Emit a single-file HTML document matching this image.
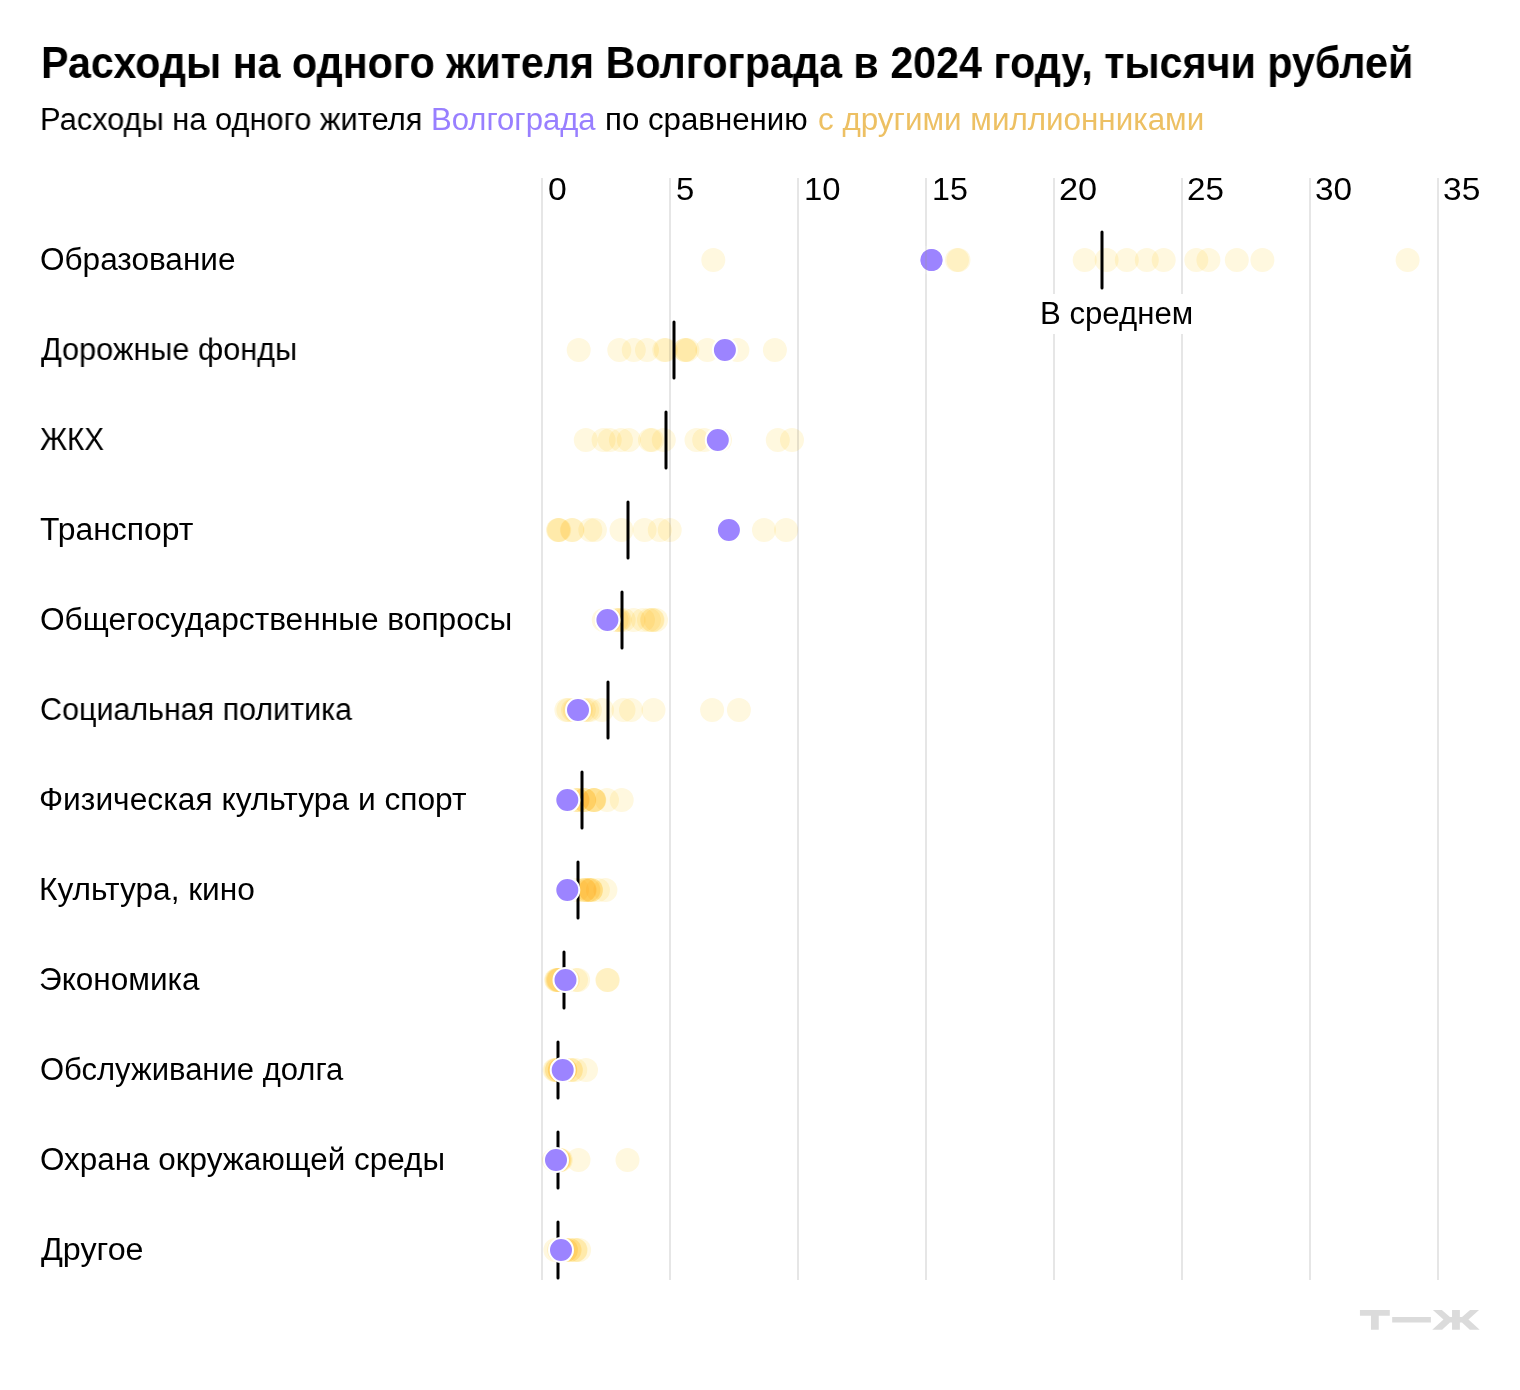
<!DOCTYPE html>
<html lang="ru"><head><meta charset="utf-8"><title>Расходы на одного жителя Волгограда</title>
<style>
html,body{margin:0;padding:0;background:#fff;}
body{width:1520px;height:1390px;position:relative;overflow:hidden;font-family:"Liberation Sans",sans-serif;color:#000;}
.chart{position:absolute;left:0;top:0;}
.y circle{mix-blend-mode:multiply;}
.t{position:absolute;white-space:nowrap;line-height:1;font-size:31px;transform-origin:0 0;will-change:transform;}
.title{font-weight:bold;font-size:44px;}
.pur{color:#987FFF;}
.yel{color:#EDC063;}
</style></head><body>
<svg class="chart" width="1520" height="1390" viewBox="0 0 1520 1390">
<line x1="542.0" y1="178" x2="542.0" y2="1280" stroke="#E6E6E6" stroke-width="2"/>
<line x1="670.0" y1="178" x2="670.0" y2="1280" stroke="#E6E6E6" stroke-width="2"/>
<line x1="798.0" y1="178" x2="798.0" y2="1280" stroke="#E6E6E6" stroke-width="2"/>
<line x1="926.0" y1="178" x2="926.0" y2="1280" stroke="#E6E6E6" stroke-width="2"/>
<line x1="1054.0" y1="178" x2="1054.0" y2="1280" stroke="#E6E6E6" stroke-width="2"/>
<line x1="1182.0" y1="178" x2="1182.0" y2="1280" stroke="#E6E6E6" stroke-width="2"/>
<line x1="1310.0" y1="178" x2="1310.0" y2="1280" stroke="#E6E6E6" stroke-width="2"/>
<line x1="1438.0" y1="178" x2="1438.0" y2="1280" stroke="#E6E6E6" stroke-width="2"/>
<rect x="1036" y="294" width="162" height="40" fill="#fff"/>
<g fill="#FFF8DF" class="y">
<circle cx="713.3" cy="260" r="12"/>
<circle cx="957" cy="260" r="12"/>
<circle cx="958.5" cy="260" r="12"/>
<circle cx="1084.7" cy="260" r="12"/>
<circle cx="1106.6" cy="260" r="12"/>
<circle cx="1126.8" cy="260" r="12"/>
<circle cx="1146.8" cy="260" r="12"/>
<circle cx="1163.7" cy="260" r="12"/>
<circle cx="1196.3" cy="260" r="12"/>
<circle cx="1208.4" cy="260" r="12"/>
<circle cx="1236.8" cy="260" r="12"/>
<circle cx="1262.4" cy="260" r="12"/>
<circle cx="1407.6" cy="260" r="12"/>
</g>
<line x1="1102" y1="232" x2="1102" y2="288" stroke="#000" stroke-width="3" stroke-linecap="round"/>
<circle cx="931.5" cy="260" r="12" fill="#9C84FF" stroke="#fff" stroke-width="2"/>
<g fill="#FFF8DF" class="y">
<circle cx="578.7" cy="350" r="12"/>
<circle cx="619.3" cy="350" r="12"/>
<circle cx="633.8" cy="350" r="12"/>
<circle cx="647.0" cy="350" r="12"/>
<circle cx="664.3" cy="350" r="12"/>
<circle cx="665.8" cy="350" r="12"/>
<circle cx="685" cy="350" r="12"/>
<circle cx="685.3" cy="350" r="12"/>
<circle cx="687.4" cy="350" r="12"/>
<circle cx="707.4" cy="350" r="12"/>
<circle cx="737.4" cy="350" r="12"/>
<circle cx="774.9" cy="350" r="12"/>
</g>
<line x1="674" y1="322" x2="674" y2="378" stroke="#000" stroke-width="3" stroke-linecap="round"/>
<circle cx="724.9" cy="350" r="12" fill="#9C84FF" stroke="#fff" stroke-width="2"/>
<g fill="#FFF8DF" class="y">
<circle cx="585.8" cy="440" r="12"/>
<circle cx="603.6" cy="440" r="12"/>
<circle cx="609.7" cy="440" r="12"/>
<circle cx="620.9" cy="440" r="12"/>
<circle cx="628.8" cy="440" r="12"/>
<circle cx="650" cy="440" r="12"/>
<circle cx="652" cy="440" r="12"/>
<circle cx="663.8" cy="440" r="12"/>
<circle cx="696.5" cy="440" r="12"/>
<circle cx="704.2" cy="440" r="12"/>
<circle cx="720" cy="440" r="12"/>
<circle cx="777.8" cy="440" r="12"/>
<circle cx="792.0" cy="440" r="12"/>
</g>
<line x1="666" y1="412" x2="666" y2="468" stroke="#000" stroke-width="3" stroke-linecap="round"/>
<circle cx="717.8" cy="440" r="12" fill="#9C84FF" stroke="#fff" stroke-width="2"/>
<g fill="#FFF8DF" class="y">
<circle cx="558" cy="530" r="12"/>
<circle cx="558.6" cy="530" r="12"/>
<circle cx="559.2" cy="530" r="12"/>
<circle cx="571.9" cy="530" r="12"/>
<circle cx="572.5" cy="530" r="12"/>
<circle cx="590.3" cy="530" r="12"/>
<circle cx="594.9" cy="530" r="12"/>
<circle cx="621.5" cy="530" r="12"/>
<circle cx="644.6" cy="530" r="12"/>
<circle cx="659.8" cy="530" r="12"/>
<circle cx="669.7" cy="530" r="12"/>
<circle cx="764.0" cy="530" r="12"/>
<circle cx="786.1" cy="530" r="12"/>
</g>
<line x1="628" y1="502" x2="628" y2="558" stroke="#000" stroke-width="3" stroke-linecap="round"/>
<circle cx="728.9" cy="530" r="12" fill="#9C84FF" stroke="#fff" stroke-width="2"/>
<g fill="#FFF8DF" class="y">
<circle cx="603.8" cy="620" r="12"/>
<circle cx="606" cy="620" r="12"/>
<circle cx="608" cy="620" r="12"/>
<circle cx="610" cy="620" r="12"/>
<circle cx="616.6" cy="620" r="12"/>
<circle cx="618.5" cy="620" r="12"/>
<circle cx="619.7" cy="620" r="12"/>
<circle cx="623.7" cy="620" r="12"/>
<circle cx="633.6" cy="620" r="12"/>
<circle cx="643.0" cy="620" r="12"/>
<circle cx="648.95" cy="620" r="12"/>
<circle cx="652.0" cy="620" r="12"/>
<circle cx="652.6" cy="620" r="12"/>
<circle cx="656.0" cy="620" r="12"/>
</g>
<line x1="622" y1="592" x2="622" y2="648" stroke="#000" stroke-width="3" stroke-linecap="round"/>
<circle cx="607.4" cy="620" r="12" fill="#9C84FF" stroke="#fff" stroke-width="2"/>
<g fill="#FFF8DF" class="y">
<circle cx="566.4" cy="710" r="12"/>
<circle cx="568.4" cy="710" r="12"/>
<circle cx="573" cy="710" r="12"/>
<circle cx="574.7" cy="710" r="12"/>
<circle cx="580.7" cy="710" r="12"/>
<circle cx="583.9" cy="710" r="12"/>
<circle cx="587.2" cy="710" r="12"/>
<circle cx="589.9" cy="710" r="12"/>
<circle cx="602" cy="710" r="12"/>
<circle cx="623.5" cy="710" r="12"/>
<circle cx="631" cy="710" r="12"/>
<circle cx="653.5" cy="710" r="12"/>
<circle cx="712.1" cy="710" r="12"/>
<circle cx="738.9" cy="710" r="12"/>
</g>
<line x1="608" y1="682" x2="608" y2="738" stroke="#000" stroke-width="3" stroke-linecap="round"/>
<circle cx="578.0" cy="710" r="12" fill="#9C84FF" stroke="#fff" stroke-width="2"/>
<g fill="#FFF8DF" class="y">
<circle cx="577.2" cy="800" r="12"/>
<circle cx="577.4" cy="800" r="12"/>
<circle cx="577.6" cy="800" r="12"/>
<circle cx="583.9" cy="800" r="12"/>
<circle cx="584.1" cy="800" r="12"/>
<circle cx="584.3" cy="800" r="12"/>
<circle cx="593.5" cy="800" r="12"/>
<circle cx="593.9" cy="800" r="12"/>
<circle cx="594.1" cy="800" r="12"/>
<circle cx="594.3" cy="800" r="12"/>
<circle cx="607" cy="800" r="12"/>
<circle cx="621.7" cy="800" r="12"/>
</g>
<line x1="582" y1="772" x2="582" y2="828" stroke="#000" stroke-width="3" stroke-linecap="round"/>
<circle cx="567.3" cy="800" r="12" fill="#9C84FF" stroke="#fff" stroke-width="2"/>
<g fill="#FFF8DF" class="y">
<circle cx="577" cy="890" r="12"/>
<circle cx="584.0" cy="890" r="12"/>
<circle cx="584.4" cy="890" r="12"/>
<circle cx="584.7" cy="890" r="12"/>
<circle cx="588.2" cy="890" r="12"/>
<circle cx="588.6" cy="890" r="12"/>
<circle cx="590.6" cy="890" r="12"/>
<circle cx="590.9" cy="890" r="12"/>
<circle cx="591.1" cy="890" r="12"/>
<circle cx="597.9" cy="890" r="12"/>
<circle cx="605.4" cy="890" r="12"/>
</g>
<line x1="578" y1="862" x2="578" y2="918" stroke="#000" stroke-width="3" stroke-linecap="round"/>
<circle cx="567.3" cy="890" r="12" fill="#9C84FF" stroke="#fff" stroke-width="2"/>
<g fill="#FFF8DF" class="y">
<circle cx="556.1" cy="980" r="12"/>
<circle cx="556.8" cy="980" r="12"/>
<circle cx="557.5" cy="980" r="12"/>
<circle cx="558" cy="980" r="12"/>
<circle cx="558.6" cy="980" r="12"/>
<circle cx="559.2" cy="980" r="12"/>
<circle cx="566" cy="980" r="12"/>
<circle cx="567" cy="980" r="12"/>
<circle cx="567.9" cy="980" r="12"/>
<circle cx="576.0" cy="980" r="12"/>
<circle cx="578.1" cy="980" r="12"/>
<circle cx="607.3" cy="980" r="12"/>
<circle cx="607.8" cy="980" r="12"/>
</g>
<line x1="564" y1="952" x2="564" y2="1008" stroke="#000" stroke-width="3" stroke-linecap="round"/>
<circle cx="565.5" cy="980" r="12" fill="#9C84FF" stroke="#fff" stroke-width="2"/>
<g fill="#FFF8DF" class="y">
<circle cx="554.6" cy="1070" r="12"/>
<circle cx="555.6" cy="1070" r="12"/>
<circle cx="556.9" cy="1070" r="12"/>
<circle cx="557.1" cy="1070" r="12"/>
<circle cx="559.7" cy="1070" r="12"/>
<circle cx="559.9" cy="1070" r="12"/>
<circle cx="560.1" cy="1070" r="12"/>
<circle cx="564.9" cy="1070" r="12"/>
<circle cx="565.1" cy="1070" r="12"/>
<circle cx="565.3" cy="1070" r="12"/>
<circle cx="570.6" cy="1070" r="12"/>
<circle cx="571.0" cy="1070" r="12"/>
<circle cx="575.2" cy="1070" r="12"/>
<circle cx="586.0" cy="1070" r="12"/>
</g>
<line x1="558" y1="1042" x2="558" y2="1098" stroke="#000" stroke-width="3" stroke-linecap="round"/>
<circle cx="562.7" cy="1070" r="12" fill="#9C84FF" stroke="#fff" stroke-width="2"/>
<g fill="#FFF8DF" class="y">
<circle cx="554" cy="1160" r="12"/>
<circle cx="554.8" cy="1160" r="12"/>
<circle cx="555.5" cy="1160" r="12"/>
<circle cx="556" cy="1160" r="12"/>
<circle cx="556.5" cy="1160" r="12"/>
<circle cx="557" cy="1160" r="12"/>
<circle cx="558.2" cy="1160" r="12"/>
<circle cx="558.5" cy="1160" r="12"/>
<circle cx="559.5" cy="1160" r="12"/>
<circle cx="559.7" cy="1160" r="12"/>
<circle cx="560.8" cy="1160" r="12"/>
<circle cx="578.5" cy="1160" r="12"/>
<circle cx="627.5" cy="1160" r="12"/>
</g>
<line x1="558" y1="1132" x2="558" y2="1188" stroke="#000" stroke-width="3" stroke-linecap="round"/>
<circle cx="556.0" cy="1160" r="12" fill="#9C84FF" stroke="#fff" stroke-width="2"/>
<g fill="#FFF8DF" class="y">
<circle cx="555.4" cy="1250" r="12"/>
<circle cx="559.1" cy="1250" r="12"/>
<circle cx="560" cy="1250" r="12"/>
<circle cx="561" cy="1250" r="12"/>
<circle cx="562" cy="1250" r="12"/>
<circle cx="565.8" cy="1250" r="12"/>
<circle cx="566.0" cy="1250" r="12"/>
<circle cx="569.3" cy="1250" r="12"/>
<circle cx="569.7" cy="1250" r="12"/>
<circle cx="575.2" cy="1250" r="12"/>
<circle cx="575.6" cy="1250" r="12"/>
<circle cx="579.1" cy="1250" r="12"/>
</g>
<line x1="558" y1="1222" x2="558" y2="1278" stroke="#000" stroke-width="3" stroke-linecap="round"/>
<circle cx="561.0" cy="1250" r="12" fill="#9C84FF" stroke="#fff" stroke-width="2"/>
<rect x="925" y="246" width="2" height="28" fill="#EAEAEA"/>
<circle cx="931.5" cy="260" r="10.8" fill="#9C84FF"/>
<polygon points="925,251.13 927,249.96 927,270.04 925,268.87" fill="#9B88E2"/>
<g fill="#DBDBDB">
<polygon points="1359.95,1309.95 1389.79,1309.95 1389.79,1315.66 1378.74,1315.66 1378.74,1329.75 1371.00,1329.75 1371.00,1315.66 1359.95,1315.66"/>
<polygon points="1392.18,1317.04 1430.87,1317.04 1430.87,1322.57 1392.18,1322.57"/>
<polygon points="1432.90,1309.95 1441.83,1309.95 1449.94,1317.04 1452.05,1317.04 1452.05,1309.95 1459.88,1309.95 1459.88,1317.04 1462.00,1317.04 1470.11,1309.95 1479.04,1309.95 1468.45,1319.53 1479.69,1329.75 1469.83,1329.75 1462.00,1322.38 1459.88,1322.38 1459.88,1329.75 1452.05,1329.75 1452.05,1322.38 1449.94,1322.38 1442.11,1329.75 1432.25,1329.75 1443.49,1319.53"/>
</g>
</svg>
<div id="title" class="t title" style="left:41.00px;top:40.75px;transform:scaleX(0.9372)">Расходы на одного жителя Волгограда в 2024 году, тысячи рублей</div>
<div id="suba" class="t " style="left:40.00px;top:103.66px;transform:scaleX(0.9942)">Расходы на одного жителя</div>
<div id="subb" class="t pur" style="left:431.00px;top:103.66px;transform:scaleX(1.0018)">Волгограда</div>
<div id="subc" class="t " style="left:605.00px;top:103.66px;transform:scaleX(1.0079)">по сравнению</div>
<div id="subd" class="t yel" style="left:818.00px;top:103.66px;transform:scaleX(1.0123)">с другими миллионниками</div>
<div id="tk0" class="t " style="left:548.00px;top:173.76px;transform:scaleX(1.0891)">0</div>
<div id="tk1" class="t " style="left:676.00px;top:173.76px;transform:scaleX(1.0588)">5</div>
<div id="tk2" class="t " style="left:804.00px;top:173.76px;transform:scaleX(1.0592)">10</div>
<div id="tk3" class="t " style="left:932.00px;top:173.76px;transform:scaleX(1.0377)">15</div>
<div id="tk4" class="t " style="left:1059.00px;top:173.76px;transform:scaleX(1.1078)">20</div>
<div id="tk5" class="t " style="left:1187.00px;top:173.76px;transform:scaleX(1.0706)">25</div>
<div id="tk6" class="t " style="left:1315.00px;top:173.76px;transform:scaleX(1.0749)">30</div>
<div id="tk7" class="t " style="left:1443.00px;top:173.76px;transform:scaleX(1.0803)">35</div>
<div id="lb0" class="t " style="left:40.00px;top:243.56px;transform:scaleX(1.0172)">Образование</div>
<div id="lb1" class="t " style="left:41.00px;top:333.56px;transform:scaleX(0.9889)">Дорожные фонды</div>
<div id="lb2" class="t " style="left:40.00px;top:423.56px;transform:scaleX(0.9486)">ЖКХ</div>
<div id="lb3" class="t " style="left:40.00px;top:513.56px;transform:scaleX(1.0283)">Транспорт</div>
<div id="lb4" class="t " style="left:40.00px;top:603.56px;transform:scaleX(1.0212)">Общегосударственные вопросы</div>
<div id="lb5" class="t " style="left:40.00px;top:693.56px;transform:scaleX(0.9820)">Социальная политика</div>
<div id="lb6" class="t " style="left:39.00px;top:783.56px;transform:scaleX(1.0236)">Физическая культура и спорт</div>
<div id="lb7" class="t " style="left:39.00px;top:873.56px;transform:scaleX(1.0214)">Культура, кино</div>
<div id="lb8" class="t " style="left:39.00px;top:963.56px;transform:scaleX(1.0169)">Экономика</div>
<div id="lb9" class="t " style="left:40.00px;top:1053.56px;transform:scaleX(0.9995)">Обслуживание долга</div>
<div id="lb10" class="t " style="left:40.00px;top:1143.56px;transform:scaleX(1.0138)">Охрана окружающей среды</div>
<div id="lb11" class="t " style="left:41.00px;top:1233.56px;transform:scaleX(1.0411)">Другое</div>
<div id="avg" class="t " style="left:1040.00px;top:297.66px;transform:scaleX(1.0051)">В среднем</div>
</body></html>
